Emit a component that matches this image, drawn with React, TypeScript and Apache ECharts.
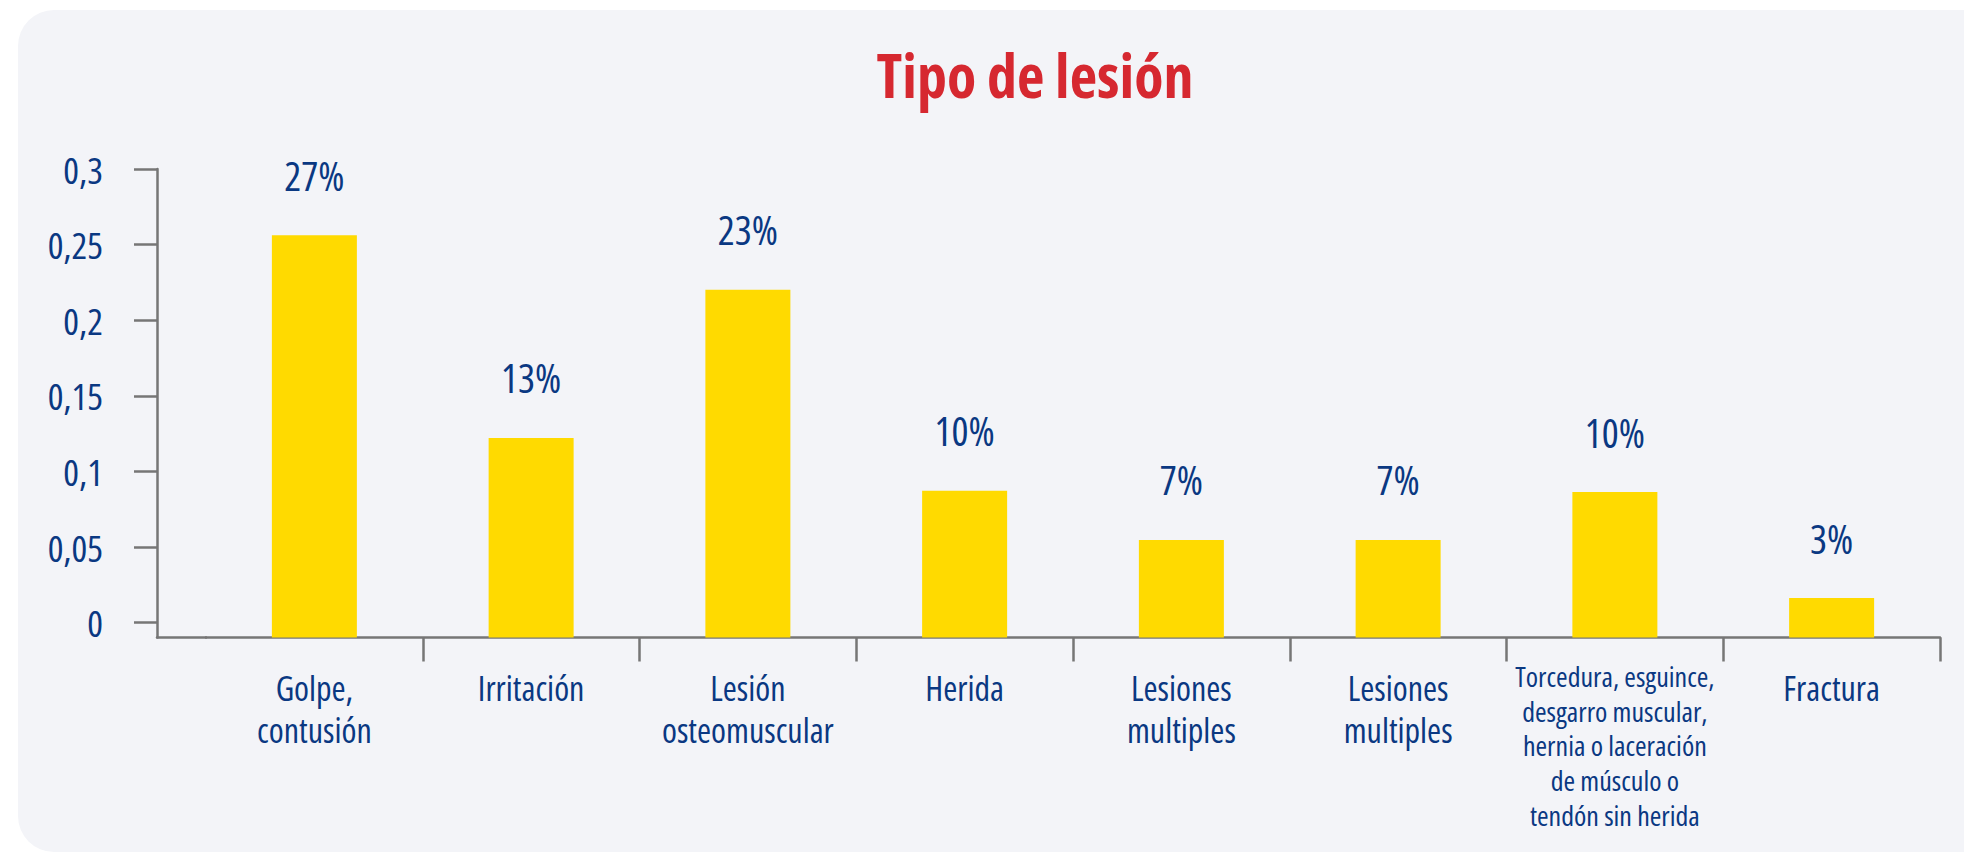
import React, { useEffect, useRef } from "react";
import * as echarts from "echarts";

// ---- data ----
const categories: string[] = [
  "Golpe,\ncontusión",
  "Irritación",
  "Lesión\nosteomuscular",
  "Herida",
  "Lesiones\nmultiples",
  "Lesiones\nmultiples",
  "Torcedura, esguince,\ndesgarro muscular,\nhernia o laceración\nde músculo o\ntendón sin herida",
  "Fractura",
];
// bar heights measured from the horizontal axis line
const values: number[] = [0.266, 0.132, 0.230, 0.097, 0.0645, 0.0645, 0.0962, 0.0261];
const valueLabels: string[] = ["27%", "13%", "23%", "10%", "7%", "7%", "10%", "3%"];
const yTicks: number[] = [0, 0.05, 0.1, 0.15, 0.2, 0.25, 0.3];
const titleText = "Tipo de lesión";

// ---- style / layout ----
const FONT = "'Open Sans', 'DejaVu Sans Condensed', sans-serif";
const BLUE = "#0A3882";
const RED = "#D62830";
const YELLOW = "#FFDA00";
const AXIS = "#767676";
const ZERO_SHIFT = 0.0098; // printed "0" sits slightly above the axis line
const Y_TOP = 0.3;
const GRID_TOP = 169;
const GRID_BOTTOM = 218.5;

export default function App() {
  const ref = useRef<HTMLDivElement>(null);

  useEffect(() => {
    if (!ref.current) return;
    const chart = echarts.init(ref.current, null, { renderer: "svg" });
    const smallIdx = 6;
    chart.setOption({
      animation: false,
      backgroundColor: "#ffffff",
      graphic: [
        {
          type: "rect",
          z: -10,
          shape: { x: 18, y: 10, width: 2000, height: 842, r: 36 },
          style: { fill: "#F3F4F8" },
        },
        {
          type: "text",
          x: 1035,
          y: 75,
          z: 10,
          style: {
            text: titleText,
            fill: RED,
            font: `bold condensed 60px ${FONT}`,
            textAlign: "center",
            textVerticalAlign: "middle",
          },
        },
      ],
      grid: [
        { left: 206, right: 24, top: GRID_TOP, bottom: GRID_BOTTOM },
        { left: 157, width: 49, top: GRID_TOP, bottom: GRID_BOTTOM },
      ],
      xAxis: [
        {
          type: "category",
          gridIndex: 0,
          data: categories,
          axisLine: { onZero: false, lineStyle: { color: AXIS, width: 2.5 } },
          axisTick: {
            show: true,
            length: 24,
            interval: (i: number) => i !== 0,
            lineStyle: { color: AXIS, width: 2.5 },
          },
          axisLabel: {
            interval: 0,
            margin: 21,
            color: BLUE,
            fontFamily: FONT,
            formatter: (val: string, idx: number) => {
              const lines = val.split("\n");
              if (idx === smallIdx) return lines.map((l) => `{s|${l}}`).join("\n");
              return "{g| }\n" + lines.map((l) => `{n|${l}}`).join("\n");
            },
            rich: {
              n: { fontSize: 34, lineHeight: 42, color: BLUE, fontFamily: FONT },
              s: { fontSize: 28, lineHeight: 34.7, color: BLUE, fontFamily: FONT },
              g: { fontSize: 2, lineHeight: 8 },
            },
          },
          splitLine: { show: false },
        },
        {
          type: "value",
          gridIndex: 1,
          min: 0,
          max: 1,
          axisLine: { show: true, onZero: false, lineStyle: { color: AXIS, width: 2.5 } },
          axisTick: { show: false },
          axisLabel: { show: false },
          splitLine: { show: false },
        },
      ],
      yAxis: [
        {
          type: "value",
          gridIndex: 0,
          min: 0,
          max: Y_TOP + ZERO_SHIFT,
          show: false,
          splitLine: { show: false },
        },
        {
          type: "value",
          gridIndex: 1,
          position: "left",
          min: -ZERO_SHIFT,
          max: Y_TOP,
          axisLine: { show: true, onZero: false, lineStyle: { color: AXIS, width: 2.5 } },
          axisTick: {
            show: true,
            length: 23,
            customValues: yTicks,
            lineStyle: { color: AXIS, width: 2.5 },
          },
          axisLabel: {
            customValues: yTicks,
            margin: 54,
            color: BLUE,
            fontSize: 37,
            fontFamily: FONT,
            formatter: (v: number) => String(v).replace(".", ","),
          },
          splitLine: { show: false },
        },
      ],
      series: [
        {
          type: "bar",
          xAxisIndex: 0,
          yAxisIndex: 0,
          data: values,
          barWidth: 85,
          itemStyle: { color: YELLOW },
          label: {
            show: true,
            position: "top",
            distance: 40,
            color: BLUE,
            fontSize: 40,
            fontFamily: FONT,
            formatter: (p: any) => valueLabels[p.dataIndex],
          },
        },
      ],
    });
    return () => chart.dispose();
  }, []);

  return (
    <>
      <style>{`.chart-root text { font-stretch: 75%; }`}</style>
      <div
        ref={ref}
        className="chart-root"
        style={{ position: "fixed", left: 0, top: 0, width: 1964, height: 856 }}
      />
    </>
  );
}
